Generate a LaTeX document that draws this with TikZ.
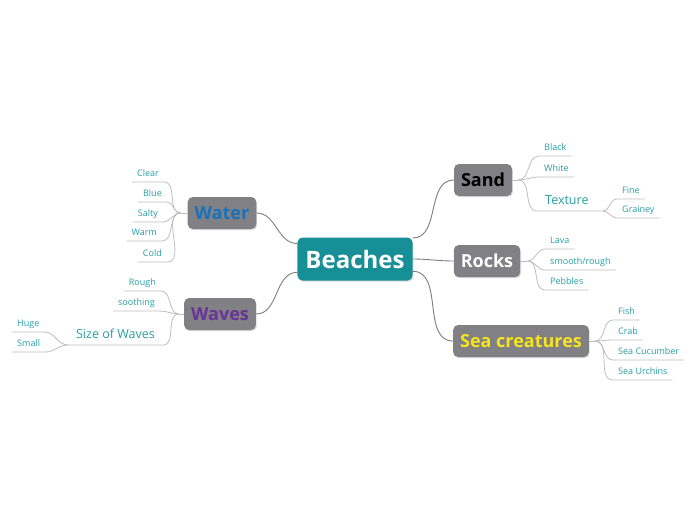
\documentclass[tikz,border=0pt]{standalone}
\usepackage{fontspec}
\setmainfont{Open Sans}
\usetikzlibrary{positioning, shadows}
\definecolor{boxgray}{RGB}{128,128,133}
\definecolor{rootteal}{RGB}{22,143,151}
\definecolor{leafteal}{RGB}{38,158,165}
\definecolor{waterblue}{RGB}{22,114,186}
\definecolor{wavespurple}{RGB}{104,52,150}
\definecolor{seayellow}{RGB}{248,228,30}
\definecolor{linkgray}{RGB}{125,125,125}
\definecolor{leafline}{RGB}{190,190,190}

\begin{document}
\begin{tikzpicture}[
    x=1pt, y=-1pt,
    topic/.style={rectangle, fill=boxgray, rounded corners=5pt, minimum height=32pt, inner xsep=7pt, font=\fontsize{18}{20}\selectfont\bfseries, drop shadow={shadow xshift=0.8pt, shadow yshift=-1.2pt, opacity=0.3}},
    root/.style={topic, fill=rootteal, text=white, minimum height=43pt, inner xsep=8pt, font=\fontsize{24}{28}\selectfont\bfseries},
    leaf/.style={inner xsep=5pt, inner ysep=5pt, text height=7pt, text depth=0pt, text=leafteal, font=\fontsize{9}{11}\selectfont},
    subleaf/.style={leaf, inner xsep=8pt, inner ysep=6.5pt, text height=9pt, font=\fontsize{12.5}{14}\selectfont},
    link/.style={draw=linkgray, line width=0.9pt},
    twig/.style={draw=leafline, line width=0.8pt},
]
\useasboundingbox (0,0) rectangle (696,520);

% Central topic and main branches
\node[root] (beaches) at (355,259) {Beaches};
\node[topic, text=waterblue] (water) at (222,213) {Water};
\node[topic, text=wavespurple] (waves) at (220,314) {Waves};
\node[topic, text=black] (sand) at (483,180) {Sand};
\node[topic, text=white] (rocks) at (487,261) {Rocks};
\node[topic, text=seayellow] (sea) at (521,341) {Sea creatures};

\draw[link] (beaches.165) to[out=180,in=0] (water.east);
\draw[link] (beaches.193) to[out=180,in=0] (waves.east);
\draw[link] (beaches.20) to[out=0,in=180] (sand.west);
\draw[link] (beaches.east) to[out=0,in=180] (rocks.west);
\draw[link] (beaches.-12) to[out=0,in=180] (sea.west);

% Junction points next to the boxes
\coordinate (waterj) at ([xshift=-7pt]water.west);
\coordinate (wavesj) at ([xshift=-5pt]waves.west);
\coordinate (sandj) at ([xshift=6pt]sand.east);
\coordinate (rocksj) at ([xshift=7pt]rocks.east);
\coordinate (seaj) at ([xshift=6pt]sea.east);
\draw[twig] (water.west) -- (waterj);
\draw[twig] (waves.west) -- (wavesj);
\draw[twig] (sand.east) -- (sandj);
\draw[twig] (rocks.east) -- (rocksj);
\draw[twig] (sea.east) -- (seaj);

% Water
\node[leaf, anchor=south east] (clear) at (164,182) {Clear};
\node[leaf, anchor=south east] (blue) at (167,202) {Blue};
\node[leaf, anchor=south east] (salty) at (163,222) {Salty};
\node[leaf, anchor=south east] (warm) at (162,241) {Warm};
\node[leaf, anchor=south east] (cold) at (167,262) {Cold};
\draw[twig] (waterj) to[out=180,in=0] (clear.south east) -- (clear.south west);
\draw[twig] (waterj) to[out=180,in=0] (blue.south east) -- (blue.south west);
\draw[twig] (waterj) to[out=180,in=0] (salty.south east) -- (salty.south west);
\draw[twig] (waterj) to[out=180,in=0] (warm.south east) -- (warm.south west);
\draw[twig] (waterj) to[out=180,in=0] (cold.south east) -- (cold.south west);

% Waves
\node[leaf, anchor=south east] (rough) at (161,291) {Rough};
\node[leaf, anchor=south east] (soothing) at (160,311) {soothing};
\node[subleaf, anchor=south east] (sizewaves) at (163,345) {Size of Waves};
\node[leaf, anchor=south west] (huge) at (12,332) {Huge};
\node[leaf, anchor=south west] (small) at (12,352) {Small};
\draw[twig] (wavesj) to[out=180,in=0] (rough.south east) -- (rough.south west);
\draw[twig] (wavesj) to[out=180,in=0] (soothing.south east) -- (soothing.south west);
\draw[twig] (wavesj) to[out=180,in=0] (sizewaves.south east) -- (sizewaves.south west);
\draw[twig] (sizewaves.south west) to[out=180,in=0] (huge.south east) -- (huge.south west);
\draw[twig] (sizewaves.south west) to[out=180,in=0] (small.south east) -- (small.south west);

% Sand
\node[leaf, anchor=south west] (black) at (539,156) {Black};
\node[leaf, anchor=south west] (white) at (539,177) {White};
\node[subleaf, anchor=south west] (texture) at (537,211) {Texture};
\coordinate (texturej) at ([xshift=6pt]texture.south east);
\node[leaf, anchor=south west] (fine) at (617,199) {Fine};
\node[leaf, anchor=south west] (grainey) at (617,218) {Grainey};
\draw[twig] (sandj) to[out=0,in=180] (black.south west) -- (black.south east);
\draw[twig] (sandj) to[out=0,in=180] (white.south west) -- (white.south east);
\draw[twig] (sandj) to[out=0,in=180] (texture.south west) -- (texturej);
\draw[twig] (texturej) to[out=0,in=180] (fine.south west) -- (fine.south east);
\draw[twig] (texturej) to[out=0,in=180] (grainey.south west) -- (grainey.south east);

% Rocks
\node[leaf, anchor=south west] (lava) at (545,249) {Lava};
\node[leaf, anchor=south west] (smooth) at (545,270) {smooth/rough};
\node[leaf, anchor=south west] (pebbles) at (545,290) {Pebbles};
\draw[twig] (rocksj) to[out=0,in=180] (lava.south west) -- (lava.south east);
\draw[twig] (rocksj) to[out=0,in=180] (smooth.south west) -- (smooth.south east);
\draw[twig] (rocksj) to[out=0,in=180] (pebbles.south west) -- (pebbles.south east);

% Sea creatures
\node[leaf, anchor=south west] (fish) at (613,320) {Fish};
\node[leaf, anchor=south west] (crab) at (613,340) {Crab};
\node[leaf, anchor=south west] (cucumber) at (613,360) {Sea Cucumber};
\node[leaf, anchor=south west] (urchins) at (613,380) {Sea Urchins};
\draw[twig] (seaj) to[out=0,in=180] (fish.south west) -- (fish.south east);
\draw[twig] (seaj) to[out=0,in=180] (crab.south west) -- (crab.south east);
\draw[twig] (seaj) to[out=0,in=180] (cucumber.south west) -- (cucumber.south east);
\draw[twig] (seaj) to[out=0,in=180] (urchins.south west) -- (urchins.south east);

\end{tikzpicture}
\end{document}
